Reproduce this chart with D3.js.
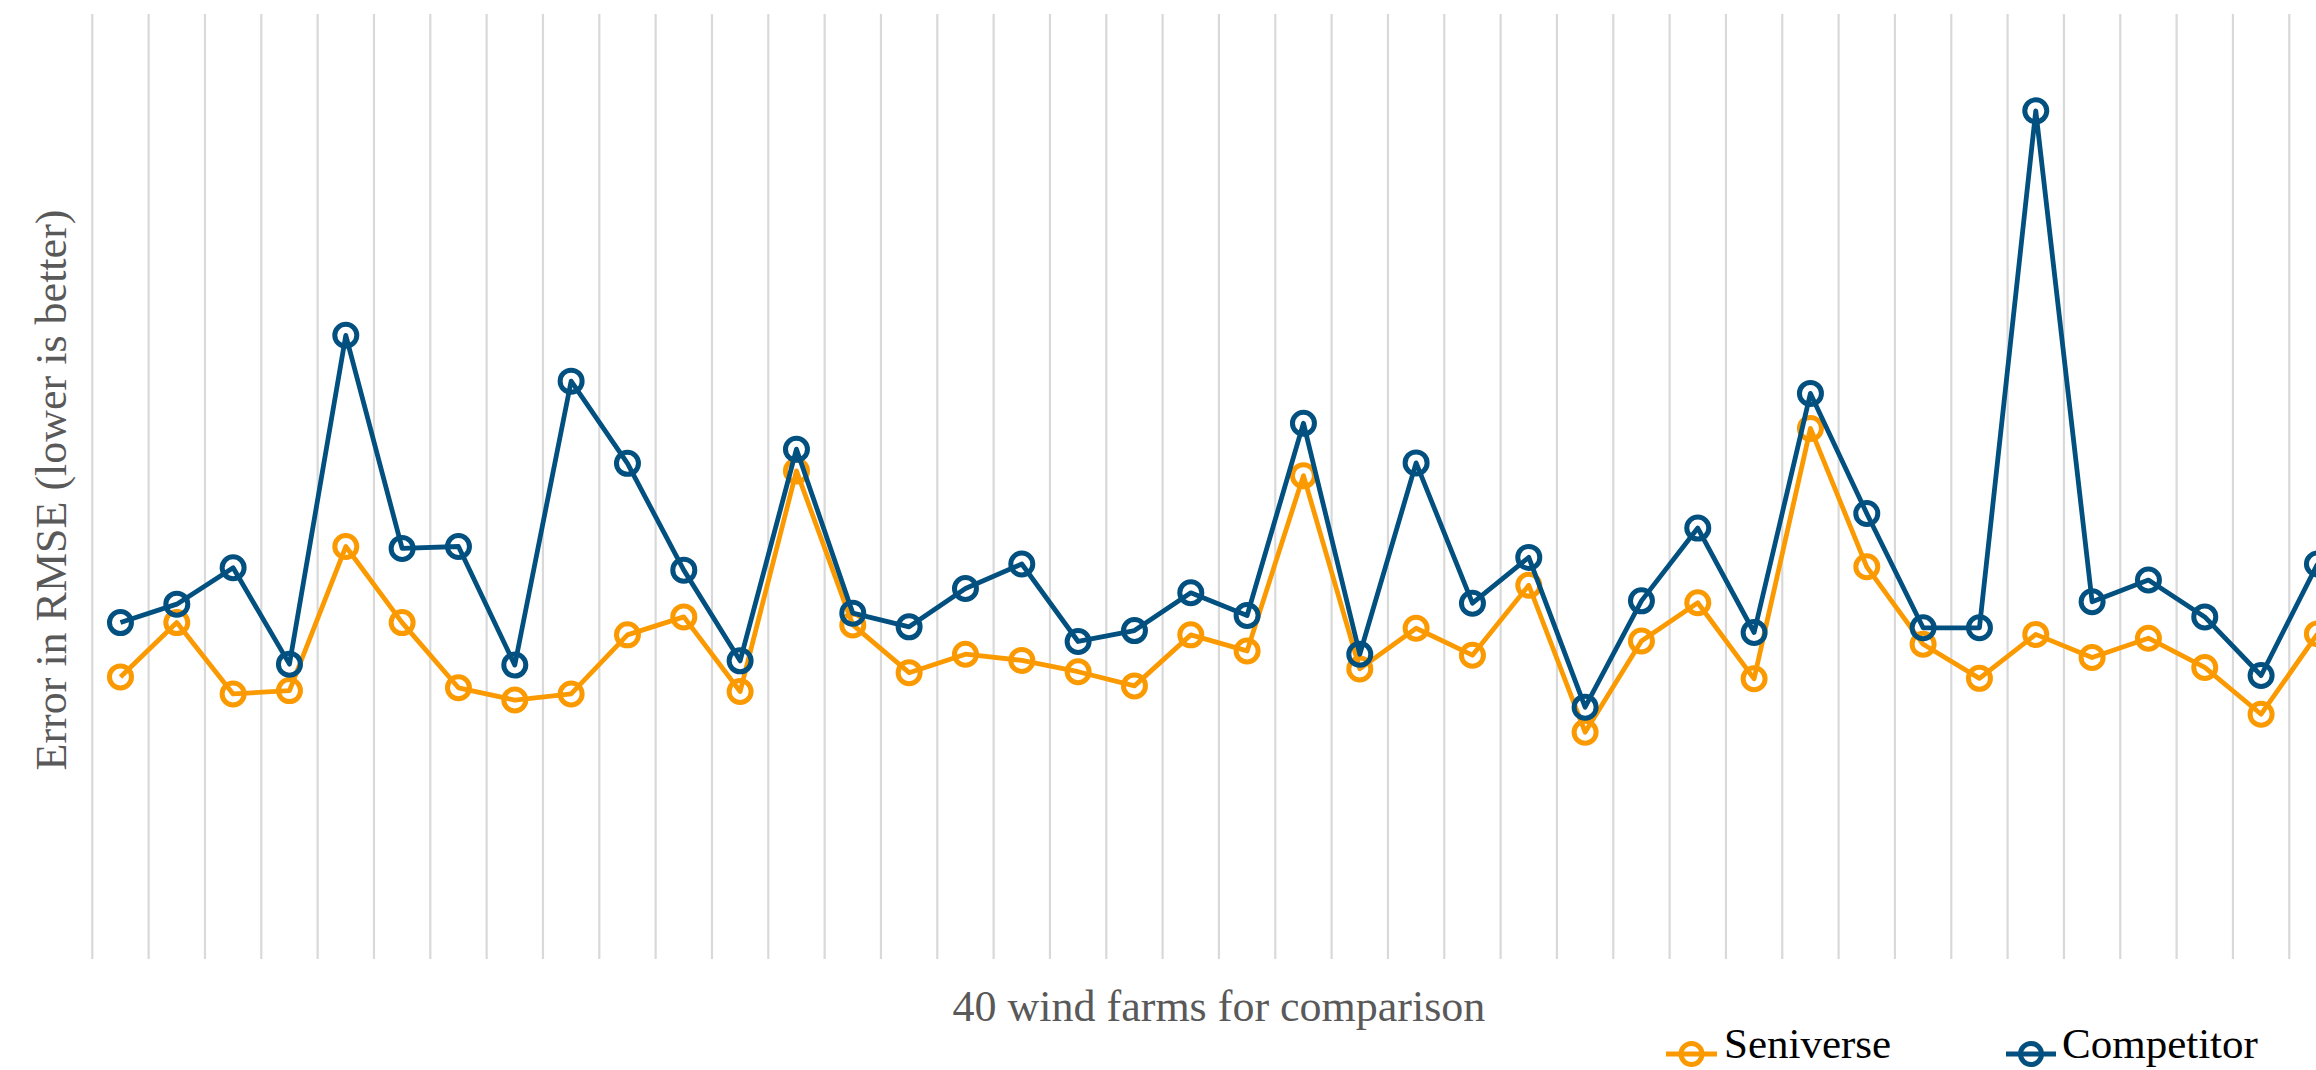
<!DOCTYPE html>
<html>
<head>
<meta charset="utf-8">
<script src="https://cdn.jsdelivr.net/npm/d3@7"></script>
<style>
  html, body { margin: 0; padding: 0; background: #ffffff; overflow: hidden; }
  svg { display: block; }
</style>
</head>
<body>
<div id="chart"></div>
<script>
// ---- data ----
const farms = d3.range(1, 41).map(i => "Farm " + i);
const seniverse = [5.97, 7.12, 5.61, 5.68, 8.73, 7.12, 5.74, 5.48, 5.61, 6.86,
                   7.24, 5.66, 10.33, 7.07, 6.06, 6.45, 6.32, 6.08, 5.78, 6.86,
                   6.52, 10.23, 6.14, 7.00, 6.43, 7.91, 4.80, 6.73, 7.54, 5.93,
                   11.23, 8.30, 6.66, 5.94, 6.87, 6.38, 6.79, 6.17, 5.18, 6.88];
const competitor = [7.12, 7.51, 8.28, 6.24, 13.20, 8.69, 8.73, 6.22, 12.23, 10.49,
                    8.23, 6.31, 10.79, 7.32, 7.03, 7.84, 8.36, 6.72, 6.95, 7.75,
                    7.27, 11.34, 6.45, 10.50, 7.53, 8.50, 5.33, 7.58, 9.12, 6.91,
                    11.97, 9.43, 7.01, 7.01, 17.95, 7.56, 8.02, 7.24, 6.00, 8.36];
const seriesNames = ["Seniverse", "Competitor"];
const xTitle = "40 wind farms for comparison";
const yTitle = "Error in RMSE (lower is better)";

// ---- layout ----
const W = 2316, H = 1070;
const colors = { Seniverse: "#FB9A00", Competitor: "#02507F" };
const svg = d3.select("#chart").append("svg")
  .attr("width", W).attr("height", H)
  .style("background", "#fff");

const x = d3.scaleBand().domain(farms).range([92.3, 2345.6]).paddingInner(0).paddingOuter(0);
const y = d3.scaleLinear().domain([0, 20]).range([959, 14]);
const cx = d => x(d) + x.bandwidth() / 2;

// vertical gridlines at category boundaries
svg.append("g").selectAll("line").data(farms).join("line")
  .attr("x1", d => x(d)).attr("x2", d => x(d))
  .attr("y1", y.range()[1]).attr("y2", y.range()[0])
  .attr("stroke", "#d9d9d9").attr("stroke-width", 2.2);

const series = [
  { name: "Seniverse", values: seniverse },
  { name: "Competitor", values: competitor }
];

const line = d3.line().x((v, i) => cx(farms[i])).y(v => y(v));

series.forEach(s => {
  const g = svg.append("g");
  g.append("path").datum(s.values)
    .attr("d", line)
    .attr("fill", "none")
    .attr("stroke", colors[s.name])
    .attr("stroke-width", 4.8)
    .attr("stroke-linejoin", "round");
  g.selectAll("circle").data(s.values).join("circle")
    .attr("cx", (v, i) => cx(farms[i]))
    .attr("cy", v => y(v))
    .attr("r", 11)
    .attr("fill", "none")
    .attr("stroke", colors[s.name])
    .attr("stroke-width", 5);
});

// axis titles
svg.append("text")
  .attr("x", (x.range()[0] + x.range()[1]) / 2)
  .attr("y", 1021)
  .attr("text-anchor", "middle")
  .attr("font-family", "Liberation Serif, serif")
  .attr("font-size", 44)
  .attr("fill", "#595959")
  .text(xTitle);

svg.append("text")
  .attr("transform", "translate(66,490) rotate(-90)")
  .attr("text-anchor", "middle")
  .attr("font-family", "Liberation Serif, serif")
  .attr("font-size", 44)
  .attr("fill", "#595959")
  .text(yTitle);

// legend
const legendItems = [
  { name: "Seniverse", x0: 1666, x1: 1717, tx: 1724 },
  { name: "Competitor", x0: 2006, x1: 2056, tx: 2062 }
];
const lg = svg.append("g");
legendItems.forEach(it => {
  const g = lg.append("g");
  g.append("line").attr("x1", it.x0).attr("x2", it.x1).attr("y1", 1054).attr("y2", 1054)
    .attr("stroke", colors[it.name]).attr("stroke-width", 4.8);
  g.append("circle").attr("cx", (it.x0 + it.x1) / 2).attr("cy", 1054).attr("r", 10.5)
    .attr("fill", "none").attr("stroke", colors[it.name]).attr("stroke-width", 5);
  g.append("text").attr("x", it.tx).attr("y", 1058)
    .attr("font-family", "Liberation Serif, serif")
    .attr("font-size", 43)
    .attr("fill", "#000")
    .text(it.name);
});
</script>
</body>
</html>
